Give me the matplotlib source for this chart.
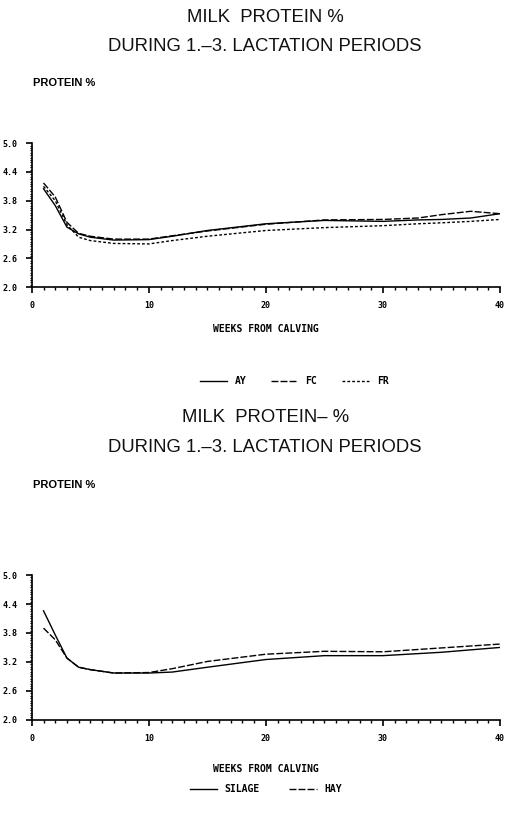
import matplotlib
matplotlib.use("Agg")
import matplotlib.pyplot as plt
from matplotlib.ticker import MultipleLocator

# weeks from calving
weeks = [1, 2, 3, 4, 5, 7, 10, 12, 15, 20, 25, 30, 33, 35, 37.5, 40]
ay = [4.05, 3.70, 3.25, 3.11, 3.04, 2.98, 2.99, 3.06, 3.18, 3.32, 3.39, 3.37, 3.40, 3.41, 3.44, 3.53]
fc = [4.17, 3.88, 3.35, 3.12, 3.06, 3.00, 3.00, 3.07, 3.17, 3.31, 3.40, 3.41, 3.44, 3.51, 3.58, 3.53]
fr = [4.10, 3.80, 3.30, 3.04, 2.97, 2.91, 2.90, 2.97, 3.06, 3.18, 3.24, 3.28, 3.32, 3.34, 3.37, 3.41]

weeks2 = [1, 2, 3, 4, 5, 7, 10, 12, 15, 20, 25, 30, 35, 40]
silage = [4.26, 3.76, 3.28, 3.09, 3.04, 2.97, 2.97, 2.99, 3.09, 3.25, 3.33, 3.33, 3.40, 3.50]
hay = [3.90, 3.66, 3.28, 3.09, 3.04, 2.97, 2.98, 3.06, 3.21, 3.36, 3.42, 3.41, 3.49, 3.57]

yticks = [2.0, 2.6, 3.2, 3.8, 4.4, 5.0]
xticks = [0, 10, 20, 30, 40]

TITLE = dict(family="Liberation Sans", fontsize=13.3, ha="center", color="#111")
TICK = dict(family="DejaVu Sans Mono", weight="bold", size=6)
SMALL = dict(family="DejaVu Sans Mono", weight="bold", size=7)


def setup(ax, pad):
    ax.set_xlim(0, 40)
    ax.set_ylim(2.0, 5.0)
    ax.set_xticks(xticks)
    ax.set_yticks(yticks)
    ax.set_xticklabels([str(v) for v in xticks], fontdict=TICK)
    ax.set_yticklabels([f"{v:.1f}" for v in yticks], fontdict=TICK)
    ax.xaxis.set_minor_locator(MultipleLocator(1))
    ax.yaxis.set_minor_locator(MultipleLocator(0.05))
    ax.tick_params(which="major", length=4, width=1.2, pad=6)
    ax.tick_params(axis="x", which="minor", length=2.5, width=1)
    ax.tick_params(axis="y", which="minor", length=1.5, width=0.8)
    for s in ("top", "right"):
        ax.spines[s].set_visible(False)
    for s in ("left", "bottom"):
        ax.spines[s].set_linewidth(1.2)
    ax.set_xlabel("WEEKS FROM CALVING", fontdict=SMALL, labelpad=pad)


fig = plt.figure(figsize=(5.05, 8.18), dpi=100)

# top panel
fig.text(0.525, 0.979, "MILK  PROTEIN %", va="center", **TITLE)
fig.text(0.525, 0.943, "DURING 1.\u20133. LACTATION PERIODS", va="center", **TITLE)
fig.text(0.065, 0.898, "PROTEIN %", fontsize=8, family="Liberation Sans", weight="bold", va="center")
ax1 = fig.add_axes([0.063, 0.649, 0.927, 0.176])
ax1.plot(weeks, ay, color="k", lw=1.0, label="AY")
ax1.plot(weeks, fc, color="k", lw=1.0, ls=(0, (5, 1.5)), label="FC")
ax1.plot(weeks, fr, color="k", lw=1.0, ls=(0, (2, 1.5)), label="FR")
setup(ax1, 10)
ax1.legend(loc="center", bbox_to_anchor=(0.56, -0.655), ncol=3, frameon=False,
           handlelength=2.8, columnspacing=2.5, prop=SMALL)

# bottom panel
fig.text(0.525, 0.490, "MILK  PROTEIN\u2013 %", va="center", **TITLE)
fig.text(0.525, 0.453, "DURING 1.\u20133. LACTATION PERIODS", va="center", **TITLE)
fig.text(0.065, 0.407, "PROTEIN %", fontsize=8, family="Liberation Sans", weight="bold", va="center")
ax2 = fig.add_axes([0.063, 0.120, 0.927, 0.177])
ax2.plot(weeks2, silage, color="k", lw=1.0, label="SILAGE")
ax2.plot(weeks2, hay, color="k", lw=1.0, ls=(0, (5, 1.5)), label="HAY")
setup(ax2, 15)
ax2.legend(loc="center", bbox_to_anchor=(0.5, -0.48), ncol=2, frameon=False,
           handlelength=2.8, columnspacing=3, prop=SMALL)

fig.savefig("out.png", dpi=100)
